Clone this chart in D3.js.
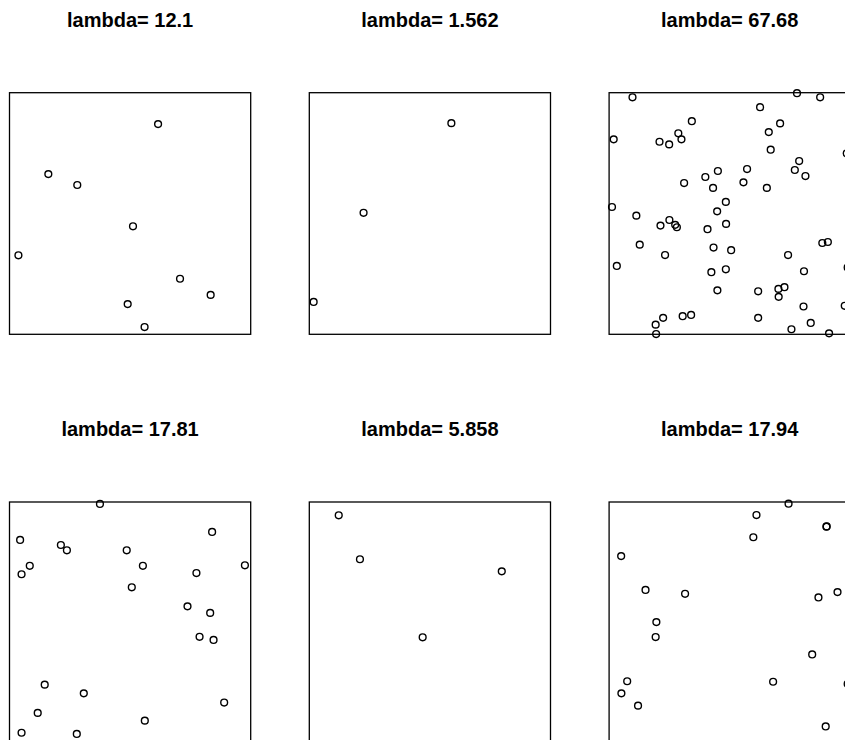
<!DOCTYPE html>
<html>
<head>
<meta charset="utf-8">
<script src="https://cdn.jsdelivr.net/npm/d3@7"></script>
<style>
  html, body { margin: 0; padding: 0; background: #fff; overflow: hidden; }
  svg { display: block; }
</style>
</head>
<body>
<div id="chart"></div>
<script>
// ── DATA: six simulated point patterns on the unit square ──
const lambdas = ["12.1", "1.562", "67.68", "17.81", "5.858", "17.94"];

const x1 = [0.616, 0.161, 0.281, 0.512, 0.037, 0.707, 0.834, 0.490, 0.560];
const y1 = [0.870, 0.663, 0.618, 0.447, 0.327, 0.230, 0.163, 0.125, 0.030];

const x2 = [0.589, 0.225, 0.018];
const y2 = [0.874, 0.503, 0.134];

const x3 = [0.097, 0.779, 0.875, 0.626, 0.343, 0.709, 0.287, 0.300, 0.209, 0.249,
            0.019, 0.662, 0.670, 0.788, 0.770, 0.814, 0.572, 0.451, 0.399, 0.557,
            0.654, 0.431, 0.311, 0.484, 0.448, 0.485, 0.408, 0.012, 0.113, 0.213,
            0.250, 0.274, 0.281, 0.127, 0.232, 0.032, 0.433, 0.506, 0.424, 0.484,
            0.449, 0.742, 0.808, 0.884, 0.907, 0.618, 0.702, 0.727, 0.703, 0.806,
            0.836, 0.756, 0.912, 0.618, 0.305, 0.340, 0.224, 0.193, 0.195, 0.977,
            0.985, 0.989, 0.995];
const y3 = [0.981, 0.998, 0.981, 0.940, 0.882, 0.873, 0.832, 0.807, 0.797, 0.786,
            0.807, 0.837, 0.764, 0.717, 0.680, 0.655, 0.684, 0.676, 0.651, 0.629,
            0.606, 0.606, 0.626, 0.548, 0.509, 0.457, 0.435, 0.527, 0.491, 0.450,
            0.473, 0.453, 0.443, 0.371, 0.328, 0.283, 0.359, 0.348, 0.257, 0.269,
            0.182, 0.328, 0.261, 0.378, 0.382, 0.178, 0.188, 0.195, 0.155, 0.115,
            0.047, 0.021, 0.004, 0.068, 0.075, 0.080, 0.068, 0.040, 0.001, 0.118,
            0.749, 0.277, 0.876];

const x4 = [0.375, 0.840, 0.044, 0.213, 0.238, 0.486, 0.084, 0.050, 0.553, 0.976,
            0.775, 0.507, 0.738, 0.832, 0.788, 0.846, 0.146, 0.308, 0.117, 0.890,
            0.561, 0.050, 0.279];
const y4 = [0.992, 0.876, 0.843, 0.822, 0.800, 0.800, 0.736, 0.701, 0.736, 0.738,
            0.706, 0.647, 0.568, 0.541, 0.442, 0.429, 0.244, 0.208, 0.127, 0.170,
            0.095, 0.045, 0.040];

const x5 = [0.122, 0.210, 0.798, 0.470];
const y5 = [0.945, 0.763, 0.713, 0.440];

const x6 = [0.744, 0.611, 0.901, 0.902, 0.598, 0.050, 0.151, 0.315, 0.947, 0.868,
            0.196, 0.193, 0.842, 0.680, 0.075, 0.051, 0.120, 0.898, 0.989];
const y6 = [0.993, 0.946, 0.898, 0.899, 0.854, 0.776, 0.636, 0.620, 0.627, 0.605,
            0.503, 0.441, 0.369, 0.256, 0.258, 0.208, 0.157, 0.071, 0.247];

const xs = [x1, x2, x3, x4, x5, x6];
const ys = [y1, y2, y3, y4, y5, y6];

// ── LAYOUT (2 x 3 panels, right column runs off the page) ──
const W = 845, H = 740;
const boxW = 241.2, boxH = 241.6;
const colStep = 299.8, rowStep = 409.3;
const left0 = 9.5, top0 = 92.7;

const svg = d3.select("#chart")
  .append("svg")
  .attr("width", W)
  .attr("height", H);

lambdas.forEach((lam, i) => {
  const col = i % 3;
  const row = Math.floor(i / 3);
  const left = left0 + col * colStep;
  const top = top0 + row * rowStep;

  const x = d3.scaleLinear().domain([0, 1]).range([left, left + boxW]);
  const y = d3.scaleLinear().domain([0, 1]).range([top + boxH, top]);

  const g = svg.append("g").attr("class", "panel");

  g.append("rect")
    .attr("x", x(0))
    .attr("y", y(1))
    .attr("width", x(1) - x(0))
    .attr("height", y(0) - y(1))
    .attr("fill", "none")
    .attr("stroke", "#000")
    .attr("stroke-width", 1.3);

  g.append("text")
    .attr("x", (x(0) + x(1)) / 2)
    .attr("y", top - 66)
    .attr("text-anchor", "middle")
    .style("font-family", "'Liberation Sans', Arial, Helvetica, sans-serif")
    .style("font-size", "20px")
    .style("font-weight", "bold")
    .attr("fill", "#000")
    .text(`lambda= ${lam}`);

  const pts = xs[i].map((v, k) => ({ x: v, y: ys[i][k] }));

  g.append("g")
    .selectAll("circle")
    .data(pts)
    .enter()
    .append("circle")
    .attr("cx", (d) => x(d.x))
    .attr("cy", (d) => y(d.y))
    .attr("r", 3.4)
    .attr("fill", "none")
    .attr("stroke", "#000")
    .attr("stroke-width", 1.4);
});
</script>
</body>
</html>
